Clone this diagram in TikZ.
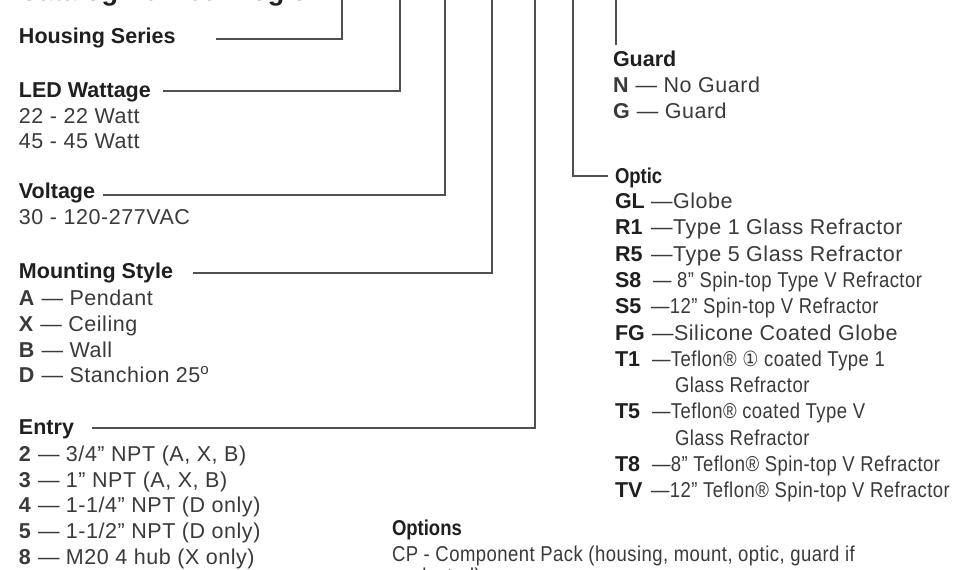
\documentclass[tikz,border=0pt]{standalone}
\usepackage{fontspec}
\usepackage{graphicx}
\setmainfont{Liberation Sans}
\newfontfamily\lightfont[LetterSpace=2.5]{Liberation Sans}
\newfontfamily\symfont{DejaVu Sans}
\definecolor{hdcol}{HTML}{1F1F1F}
\definecolor{txcol}{HTML}{3A3A3A}
\definecolor{lncol}{HTML}{505050}
\newcommand\cnd[1]{\scalebox{0.86}[1]{#1}}
\begin{document}
\begin{tikzpicture}[x=1pt,y=-1pt,
  lbl/.style={anchor=base west,inner sep=0pt,outer sep=0pt,text=hdcol,font=\fontsize{21.5}{26}\selectfont\bfseries},
  itm/.style={anchor=base west,inner sep=0pt,outer sep=0pt,text=txcol,font=\fontsize{21.5}{26}\selectfont\lightfont},
  code/.style={anchor=base west,inner sep=0pt,outer sep=0pt,text=hdcol,font=\fontsize{21.5}{26}\selectfont\bfseries},
  conn/.style={draw=lncol,line width=1.2pt}]
\useasboundingbox (0,0) rectangle (969,570);
\fill[white] (0,0) rectangle (969,570);

\begin{scope}
\clip (0,0) rectangle (969,570);
\node[lbl,font=\fontsize{27}{30}\selectfont\bfseries] (head) at (19,0.5) {Catalog Number Logic};
\node[itm] (sel) at (402,583) {\cnd{selected)}};
\end{scope}

% left column
\node[lbl] (hs) at (19,43) {Housing Series};
\node[lbl] (led) at (19,97) {LED Wattage};
\node[itm] (w22) at (19,123) {22 - 22 Watt};
\node[itm] (w45) at (19,148) {45 - 45 Watt};
\node[lbl] (volt) at (19,198) {Voltage};
\node[itm] (v30) at (19,224) {30 - 120-277VAC};
\node[lbl] (ms) at (19,278) {Mounting Style};
\node[itm] (mA) at (19,305) {\textbf{A} — Pendant};
\node[itm] (mX) at (19,331) {\textbf{X} — Ceiling};
\node[itm] (mB) at (19,357) {\textbf{B} — Wall};
\node[itm] (mD) at (19,382) {\textbf{D} — Stanchion 25\textsuperscript{o}};
\node[lbl] (entry) at (19,434) {Entry};
\node[itm] (e2) at (19,461) {\textbf{2} — 3/4” NPT (A, X, B)};
\node[itm] (e3) at (19,487) {\textbf{3} — 1” NPT (A, X, B)};
\node[itm] (e4) at (19,512.5) {\textbf{4} — 1-1/4” NPT (D only)};
\node[itm] (e5) at (19,538) {\textbf{5} — 1-1/2” NPT (D only)};
\node[itm] (e8) at (19,564) {\textbf{8} — M20 4 hub (X only)};

% guard
\node[lbl] (guard) at (613,66) {Guard};
\node[itm] (gN) at (613,92) {\textbf{N} — No Guard};
\node[itm] (gG) at (613,118) {\textbf{G} — Guard};

% optic
\node[lbl] (optic) at (615,183) {\cnd{Optic}};
\node[code] (cGL) at (615,208) {GL};  \node[itm] (tGL) at (651,208) {—Globe};
\node[code] (cR1) at (615,234) {R1};  \node[itm] (tR1) at (651,234) {—Type 1 Glass Refractor};
\node[code] (cR5) at (615,261) {R5};  \node[itm] (tR5) at (651,261) {—Type 5 Glass Refractor};
\node[code] (cS8) at (615,287) {S8};  \node[itm] (tS8) at (653,287) {\cnd{— 8” Spin-top Type V Refractor}};
\node[code] (cS5) at (615,313) {S5};  \node[itm] (tS5) at (651,313) {\cnd{—12” Spin-top V Refractor}};
\node[code] (cFG) at (615,340) {FG};  \node[itm] (tFG) at (652,340) {—Silicone Coated Globe};
\node[code] (cT1) at (615,366) {T1};  \node[itm] (tT1) at (652,366) {\cnd{—Teflon® {\symfont\fontsize{21}{24}\selectfont ①} coated Type 1}};
\node[itm] (tT1b) at (675,392) {\cnd{Glass Refractor}};
\node[code] (cT5) at (615,418) {T5};  \node[itm] (tT5) at (652,418) {\cnd{—Teflon® coated Type V}};
\node[itm] (tT5b) at (675,445) {\cnd{Glass Refractor}};
\node[code] (cT8) at (615,471) {T8};  \node[itm] (tT8) at (652,471) {\cnd{—8” Teflon® Spin-top V Refractor}};
\node[code] (cTV) at (615,497) {TV};  \node[itm] (tTV) at (651,497) {\cnd{—12” Teflon® Spin-top V Refractor}};

% options
\node[lbl] (opts) at (392,535) {\cnd{Options}};
\node[itm] (cp) at (392,561) {\cnd{CP - Component Pack (housing, mount, optic, guard if}};

% connectors
\coordinate (hsA) at (216,39);  \coordinate (hsT) at (342,0);
\coordinate (ledA) at (163,91); \coordinate (ledT) at (400,0);
\coordinate (voA) at (103,195); \coordinate (voT) at (445,0);
\coordinate (msA) at (193,273); \coordinate (msT) at (492,0);
\coordinate (enA) at (92,428);  \coordinate (enT) at (535,0);
\coordinate (opA) at (608,176); \coordinate (opT) at (573,0);
\coordinate (guA) at (616,45);  \coordinate (guT) at (616,0);
\draw[conn] (hsA) -| (hsT);
\draw[conn] (ledA) -| (ledT);
\draw[conn] (voA) -| (voT);
\draw[conn] (msA) -| (msT);
\draw[conn] (enA) -| (enT);
\draw[conn] (opA) -| (opT);
\draw[conn] (guA) -- (guT);
\end{tikzpicture}
\end{document}
